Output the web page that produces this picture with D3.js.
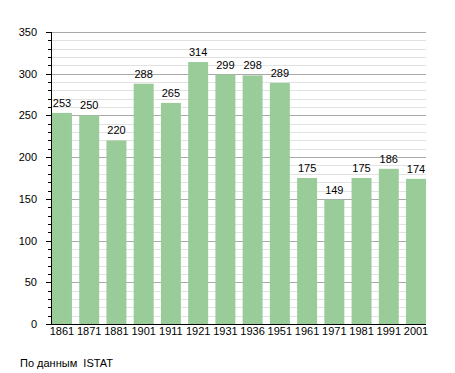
<!DOCTYPE html>
<html>
<head>
<meta charset="utf-8">
<script src="https://cdn.jsdelivr.net/npm/d3@7"></script>
<style>
  body { margin: 0; background: #fff; }
  text { font-family: "Liberation Sans", Arial, sans-serif; font-size: 11px; fill: #000; }
</style>
</head>
<body>
<script>
const years = ["1861", "1871", "1881", "1901", "1911", "1921", "1931", "1936", "1951", "1961", "1971", "1981", "1991", "2001"];
const population = [253, 250, 220, 288, 265, 314, 299, 298, 289, 175, 149, 175, 186, 174];
const yTicks = [0, 50, 100, 150, 200, 250, 300, 350];
const source = "По данным  ISTAT";

const margin = { top: 32, left: 51, right: 29, bottom: 49 };
const width = 455 - margin.left - margin.right,
      height = 373 - margin.top - margin.bottom;

const svg = d3.select("body").append("svg")
    .attr("width", 455)
    .attr("height", 373);

const g = svg.append("g")
    .attr("transform", `translate(${margin.left},${margin.top})`);

const x = d3.scaleBand().domain(years).range([1, width])
    .paddingInner(0.267).paddingOuter(0);
const y = d3.scaleLinear().domain([0, 350]).range([height, 0]);

// minor grid
g.append("g").selectAll("line")
  .data(d3.range(10, 351, 10).filter(v => v % 50 !== 0))
  .join("line")
    .attr("x1", 0).attr("x2", width)
    .attr("y1", d => Math.round(y(d)) + 0.5).attr("y2", d => Math.round(y(d)) + 0.5)
    .attr("stroke", "#e2e2e2");

// major grid
g.append("g").selectAll("line")
  .data(yTicks.filter(v => v > 0))
  .join("line")
    .attr("x1", 0).attr("x2", width)
    .attr("y1", d => Math.round(y(d)) + 0.5).attr("y2", d => Math.round(y(d)) + 0.5)
    .attr("stroke", "#aaaaaa");

// bars
g.selectAll("rect.bar")
  .data(population)
  .join("rect")
    .attr("class", "bar")
    .attr("x", (d, i) => x(years[i]))
    .attr("width", x.bandwidth())
    .attr("y", d => y(d))
    .attr("height", d => height - y(d))
    .attr("fill", "#99cc99");

// value labels
g.selectAll("text.val")
  .data(population)
  .join("text")
    .attr("class", "val")
    .attr("x", (d, i) => x(years[i]) + x.bandwidth() / 2)
    .attr("y", d => y(d) - 6)
    .attr("text-anchor", "middle")
    .text(d => d);

// y axis ticks
g.append("g").selectAll("line")
  .data(d3.range(0, 351, 10))
  .join("line")
    .attr("x1", d => d % 50 === 0 ? -5 : -3).attr("x2", 0)
    .attr("y1", d => Math.round(y(d)) + 0.5).attr("y2", d => Math.round(y(d)) + 0.5)
    .attr("stroke", "#000");

g.append("line")
    .attr("x1", 0.5).attr("x2", 0.5).attr("y1", 0).attr("y2", height)
    .attr("stroke", "#000");

g.append("g").selectAll("text")
  .data(yTicks)
  .join("text")
    .attr("x", -14)
    .attr("y", d => y(d) + 4)
    .attr("text-anchor", "end")
    .text(d => d);

// x axis
g.append("line")
    .attr("x1", 0).attr("x2", width).attr("y1", height + 0.5).attr("y2", height + 0.5)
    .attr("stroke", "#000");

g.append("g").selectAll("text")
  .data(years)
  .join("text")
    .attr("x", d => x(d) + x.bandwidth() / 2)
    .attr("y", height + 11)
    .attr("text-anchor", "middle")
    .text(d => d);

svg.append("text")
    .attr("x", 20)
    .attr("y", 367)
    .style("white-space", "pre")
    .text(source);
</script>
</body>
</html>
